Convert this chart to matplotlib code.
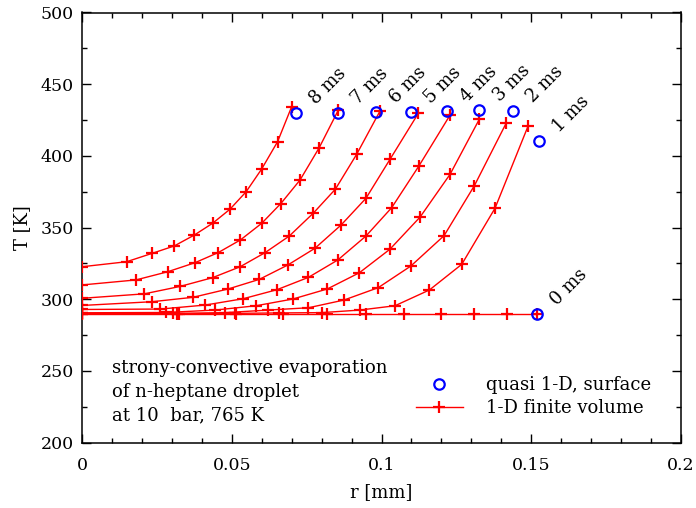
import matplotlib
matplotlib.use("Agg")
import matplotlib.pyplot as plt
from matplotlib.ticker import MultipleLocator

plt.rcParams['font.family'] = ['DejaVu Serif']

# ---- data ----
times = ["0 ms", "1 ms", "2 ms", "3 ms", "4 ms", "5 ms", "6 ms", "7 ms", "8 ms"]

r_0ms = [0, 0.0325, 0.0514, 0.0670, 0.0818, 0.0949, 0.1075, 0.1198, 0.1309, 0.1418, 0.1518]
T_0ms = [290.0, 290.0, 290.0, 290.0, 290.0, 290.0, 290.0, 290.0, 290.0, 290.0, 290.0]

r_1ms = [0, 0.0317, 0.0512, 0.0659, 0.0800, 0.0928, 0.1045, 0.1160, 0.1268, 0.1379, 0.1490]
T_1ms = [289.7, 289.8, 290.2, 290.5, 290.7, 292.5, 295.5, 306.5, 324.4, 363.5, 421.1]

r_2ms = [0, 0.0303, 0.0478, 0.0622, 0.0756, 0.0875, 0.0989, 0.1098, 0.1209, 0.1310, 0.1416]
T_2ms = [290.1, 290.2, 290.7, 292.5, 294.1, 299.5, 308.1, 323.2, 344.4, 379.2, 422.7]

r_3ms = [0, 0.0280, 0.0445, 0.0581, 0.0704, 0.0819, 0.0926, 0.1028, 0.1129, 0.1229, 0.1327]
T_3ms = [290.6, 290.8, 292.5, 295.5, 300.2, 307.2, 318.5, 334.9, 357.4, 387.2, 425.7]

r_4ms = [0, 0.0262, 0.0412, 0.0538, 0.0651, 0.0756, 0.0854, 0.0948, 0.1034, 0.1125, 0.1229]
T_4ms = [292.9, 293.2, 296.0, 300.4, 306.7, 315.3, 327.4, 344.1, 363.9, 393.0, 428.5]

r_5ms = [0, 0.0233, 0.0371, 0.0488, 0.0592, 0.0687, 0.0778, 0.0865, 0.0948, 0.1028, 0.1123]
T_5ms = [295.7, 298.3, 301.4, 307.2, 313.9, 323.9, 335.6, 351.8, 370.4, 397.5, 429.7]

r_6ms = [0, 0.0208, 0.0328, 0.0436, 0.0528, 0.0611, 0.0692, 0.0772, 0.0846, 0.0917, 0.0995]
T_6ms = [300.7, 303.8, 309.0, 315.1, 322.7, 332.5, 344.1, 360.0, 376.8, 401.1, 431.3]

r_7ms = [0, 0.0180, 0.0286, 0.0377, 0.0455, 0.0529, 0.0600, 0.0664, 0.0728, 0.0792, 0.0856]
T_7ms = [310.0, 313.5, 319.2, 325.5, 332.6, 341.4, 353.0, 366.8, 383.2, 405.7, 432.0]

r_8ms = [0, 0.0149, 0.0235, 0.0308, 0.0375, 0.0436, 0.0494, 0.0548, 0.0600, 0.0653, 0.0700]
T_8ms = [322.7, 326.2, 332.1, 337.2, 344.8, 353.0, 362.8, 375.0, 390.9, 409.9, 434.3]

# quasi 1-D surface values (0 ms ... 8 ms)
r_surface = [0.1518, 0.1527, 0.1438, 0.1327, 0.1218, 0.1097, 0.0981, 0.0854, 0.0714]
T_surface = [289.7, 410.4, 431.3, 432.0, 431.3, 430.8, 430.4, 429.7, 429.7]

fv_r = [r_0ms, r_1ms, r_2ms, r_3ms, r_4ms, r_5ms, r_6ms, r_7ms, r_8ms]
fv_T = [T_0ms, T_1ms, T_2ms, T_3ms, T_4ms, T_5ms, T_6ms, T_7ms, T_8ms]

note_lines = ["strony-convective evaporation", "of n-heptane droplet", "at 10  bar, 765 K"]

# ---- figure ----
fig = plt.figure(figsize=(6.96, 5.08), dpi=100)
ax = fig.add_axes([82/696, 1 - 442.7/508, 599/696, 430.2/508])

fs = 13
fs_tick = 12.5
line_fv = None
for rr, TT in zip(fv_r, fv_T):
    line_fv, = ax.plot(rr, TT, color='#ff0000', lw=1.0, marker='+',
                       ms=9, mew=1.6, zorder=3)

circ, = ax.plot(r_surface, T_surface, ls='none', marker='o', ms=7.5,
                mfc='none', mec='#0000ff', mew=1.6, zorder=4)

for lab, rs, ts in zip(times, r_surface, T_surface):
    ax.annotate(lab, xy=(rs, ts), xytext=(23, 19.5), textcoords='offset points',
                rotation=45, rotation_mode='anchor', ha='center', va='center',
                fontsize=fs)

ax.set_xlim(0, 0.2)
ax.set_ylim(200, 500)
ax.xaxis.set_major_locator(MultipleLocator(0.05))
ax.xaxis.set_minor_locator(MultipleLocator(0.01))
ax.yaxis.set_major_locator(MultipleLocator(50))
ax.yaxis.set_minor_locator(MultipleLocator(25))
ax.set_xticks([0, 0.05, 0.1, 0.15, 0.2])
ax.set_xticklabels(["0", "0.05", "0.1", "0.15", "0.2"])

ax.tick_params(which='both', direction='in', top=True, right=True,
               labelsize=fs_tick, width=1.0)
ax.tick_params(which='major', length=6.5)
ax.tick_params(which='minor', length=3.5)
ax.tick_params(axis='x', which='major', pad=10)
ax.tick_params(axis='y', which='major', pad=6)
for s in ax.spines.values():
    s.set_linewidth(1.1)

ax.set_xlabel("r [mm]", fontsize=fs, labelpad=7)
ax.set_ylabel("T [K]", fontsize=fs, labelpad=7)

for i, txt in enumerate(note_lines):
    ax.text(0.0496, 0.1613 - i * 0.0548, txt, transform=ax.transAxes,
            ha='left', va='baseline', fontsize=fs)

leg = ax.legend([circ, line_fv], ["quasi 1-D, surface", "1-D finite volume"],
                loc='upper left', bbox_to_anchor=(0.545, 0.172), frameon=False,
                fontsize=fs, handlelength=2.6, handletextpad=1.3,
                labelspacing=0.3, borderaxespad=0, numpoints=1)

fig.savefig("out.png", dpi=100)
